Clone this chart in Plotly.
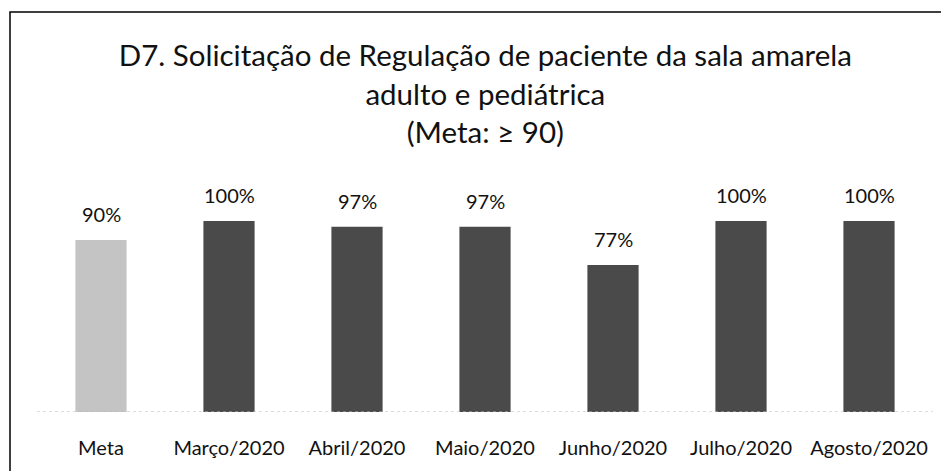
import plotly.graph_objects as go

categories = ["Meta", "Março/2020", "Abril/2020", "Maio/2020", "Junho/2020", "Julho/2020", "Agosto/2020"]
values = [90, 100, 97, 97, 77, 100, 100]
labels = ["90%", "100%", "97%", "97%", "77%", "100%", "100%"]
colors = ["#c4c4c4", "#4a4a4a", "#4a4a4a", "#4a4a4a", "#4a4a4a", "#4a4a4a", "#4a4a4a"]

FONT = "Lato, 'Open Sans', sans-serif"

# page body adds an 8px offset; plot area placed at screen x 37..933, y 221..412
L, T, PW, PH = 29, 213, 896, 191

fig = go.Figure()
fig.add_trace(go.Bar(x=categories, y=values, marker=dict(color=colors, line=dict(width=0)),
                     width=0.4, hoverinfo="skip"))
for c, v, t in zip(categories, values, labels):
    fig.add_annotation(x=c, y=v, text=t, showarrow=False, yanchor="bottom", yshift=12,
                       font=dict(family=FONT, size=20, color="#111"))

fig.update_layout(
    width=949, height=471,
    margin=dict(l=L, r=949 - L - PW, t=T, b=471 - T - PH),
    paper_bgcolor="white", plot_bgcolor="white",
    showlegend=False,
    title=dict(text="D7. Solicitação de Regulação de paciente da sala amarela<br>adulto e pediátrica<br>(Meta: ≥ 90)",
               x=0.503, xanchor="center", y=0.876, yanchor="top",
               font=dict(family=FONT, size=29.5, color="#111")),
    xaxis=dict(showgrid=False, showline=False, ticks="", ticklabelstandoff=22,
               tickfont=dict(family=FONT, size=20, color="#111")),
    yaxis=dict(range=[0, 100], visible=False, showgrid=False),
    shapes=[
        dict(type="rect", xref="paper", yref="paper", x0=(2 - L) / PW, x1=(960 - L) / PW,
             y0=(T + PH - 480) / PH, y1=(T + PH - 4) / PH, line=dict(color="black", width=1.5)),
        dict(type="line", xref="paper", yref="y", x0=0, x1=1, y0=0, y1=0,
             line=dict(color="#bbbbbb", width=1, dash="dot")),
    ],
)
fig.write_html("out.html")
